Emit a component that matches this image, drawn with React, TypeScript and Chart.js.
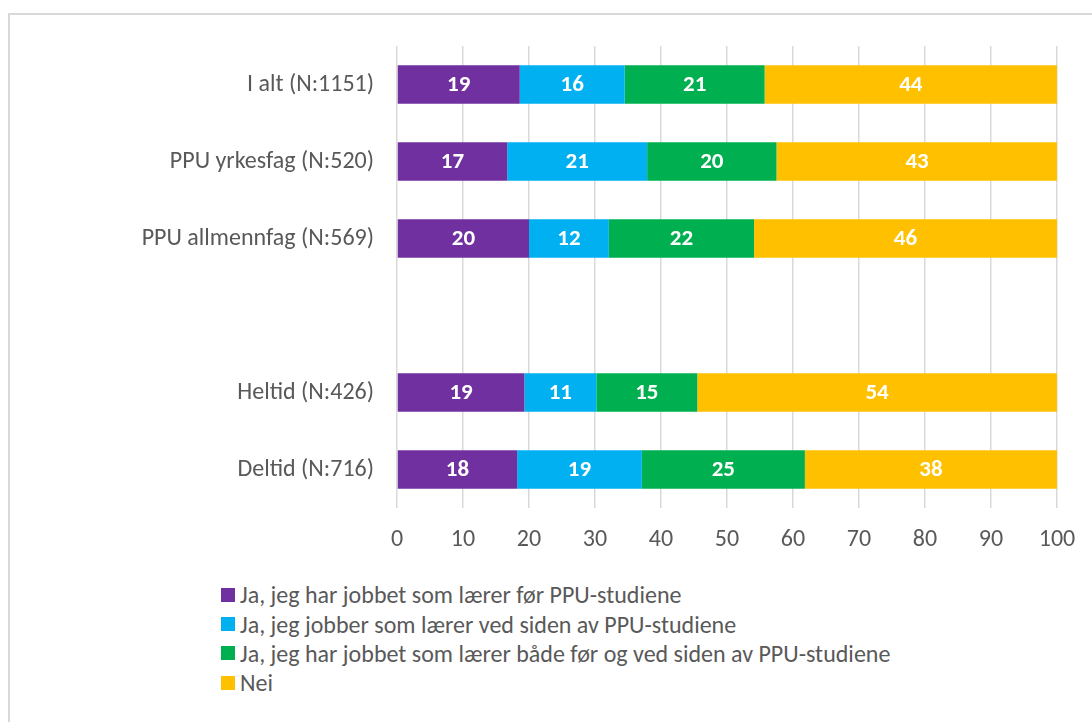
import React, { useEffect, useRef } from "react";
import { Chart, registerables } from "chart.js";

Chart.register(...registerables);

const categories = [
  "I alt (N:1151)",
  "PPU yrkesfag (N:520)",
  "PPU allmennfag (N:569)",
  "",
  "Heltid (N:426)",
  "Deltid (N:716)",
];

const seriesNames = [
  "Ja, jeg har jobbet som lærer før PPU-studiene",
  "Ja, jeg jobber som lærer ved siden av PPU-studiene",
  "Ja, jeg har jobbet som lærer både før og ved siden av PPU-studiene",
  "Nei",
];

const forPPU = [18.6, 16.7, 20.0, null, 19.3, 18.2];
const vedSiden = [15.9, 21.2, 12.1, null, 10.9, 18.9];
const begge = [21.2, 19.6, 22.0, null, 15.3, 24.7];
const nei = [44.3, 42.6, 45.9, null, 54.49, 38.2];

const colors = ["#7030A0", "#00B0F0", "#00B050", "#FFC000"];
const xTicks = [0, 10, 20, 30, 40, 50, 60, 70, 80, 90, 100];

const FONT = '"Carlito", "Open Sans", sans-serif';
const TEXT = "#595959";
const LABEL_SIZE = 24;

const valueLabels = {
  id: "valueLabels",
  afterDatasetsDraw(chart: any) {
    const ctx = chart.ctx;
    ctx.save();
    ctx.fillStyle = "#FFFFFF";
    ctx.font = `bold 23px ${FONT}`;
    ctx.textAlign = "center";
    ctx.textBaseline = "middle";
    chart.data.datasets.forEach((ds: any, di: number) => {
      const meta = chart.getDatasetMeta(di);
      meta.data.forEach((el: any, i: number) => {
        const v = ds.data[i];
        if (v === null || v === undefined) return;
        const props = el.getProps(["x", "y", "base"], true);
        ctx.fillText(String(Math.round(v)), (props.x + props.base) / 2, props.y + 1);
      });
    });
    ctx.restore();
  },
};

export default function App() {
  const ref = useRef<HTMLCanvasElement | null>(null);

  useEffect(() => {
    if (!ref.current) return;
    const data = [forPPU, vedSiden, begge, nei];
    const chart = new Chart(ref.current, {
      type: "bar",
      data: {
        labels: categories,
        datasets: seriesNames.map((name, i) => ({
          label: name,
          data: data[i] as any,
          backgroundColor: colors[i],
          borderWidth: 0,
          barPercentage: 0.5,
          categoryPercentage: 1,
        })),
      },
      options: {
        indexAxis: "y",
        animation: false,
        responsive: false,
        maintainAspectRatio: false,
        layout: { padding: { top: 31, right: 35, left: 0, bottom: 0 } },
        plugins: {
          legend: { display: false },
          tooltip: { enabled: false },
        },
        scales: {
          x: {
            stacked: true,
            min: 0,
            max: 100,
            afterBuildTicks: (scale: any) => {
              scale.ticks = xTicks.map((v) => ({ value: v }));
            },
            afterFit: (scale: any) => {
              scale.height = 67;
              scale.paddingLeft = 0;
              scale.paddingRight = 0;
            },
            grid: { color: "#D9D9D9", lineWidth: 1.5, drawTicks: false },
            border: { display: false },
            ticks: {
              color: TEXT,
              font: { family: FONT, size: LABEL_SIZE },
              padding: 18,
            },
          },
          y: {
            stacked: true,
            afterFit: (scale: any) => {
              scale.width = 387;
              scale.paddingTop = 0;
              scale.paddingBottom = 0;
            },
            grid: { display: false, drawTicks: false },
            border: { display: false },
            ticks: {
              color: TEXT,
              font: { family: FONT, size: LABEL_SIZE },
              padding: 23,
            },
          },
        },
      },
      plugins: [valueLabels],
    } as any);
    return () => chart.destroy();
  }, []);

  return (
    <div
      style={{
        position: "absolute",
        left: 0,
        top: 0,
        width: 1092,
        height: 722,
        overflow: "hidden",
        background: "#fff",
      }}
    >
      <div
        style={{
          position: "absolute",
          left: 8,
          top: 13,
          width: 1100,
          height: 740,
          border: "2px solid #D9D9D9",
          boxSizing: "border-box",
        }}
      />
      <canvas
        ref={ref}
        width={1082}
        height={560}
        style={{ position: "absolute", left: 10, top: 15, width: 1082, height: 560 }}
      />
      <div
        style={{
          position: "absolute",
          left: 221,
          top: 580,
          fontFamily: FONT,
          fontSize: LABEL_SIZE,
          color: TEXT,
        }}
      >
        {seriesNames.map((name, i) => (
          <div
            key={name}
            style={{ display: "flex", alignItems: "center", height: 29.4, whiteSpace: "nowrap" }}
          >
            <span
              style={{
                display: "inline-block",
                width: 14,
                height: 14,
                background: colors[i],
                marginRight: 5,
              }}
            />
            <span>{name}</span>
          </div>
        ))}
      </div>
    </div>
  );
}
